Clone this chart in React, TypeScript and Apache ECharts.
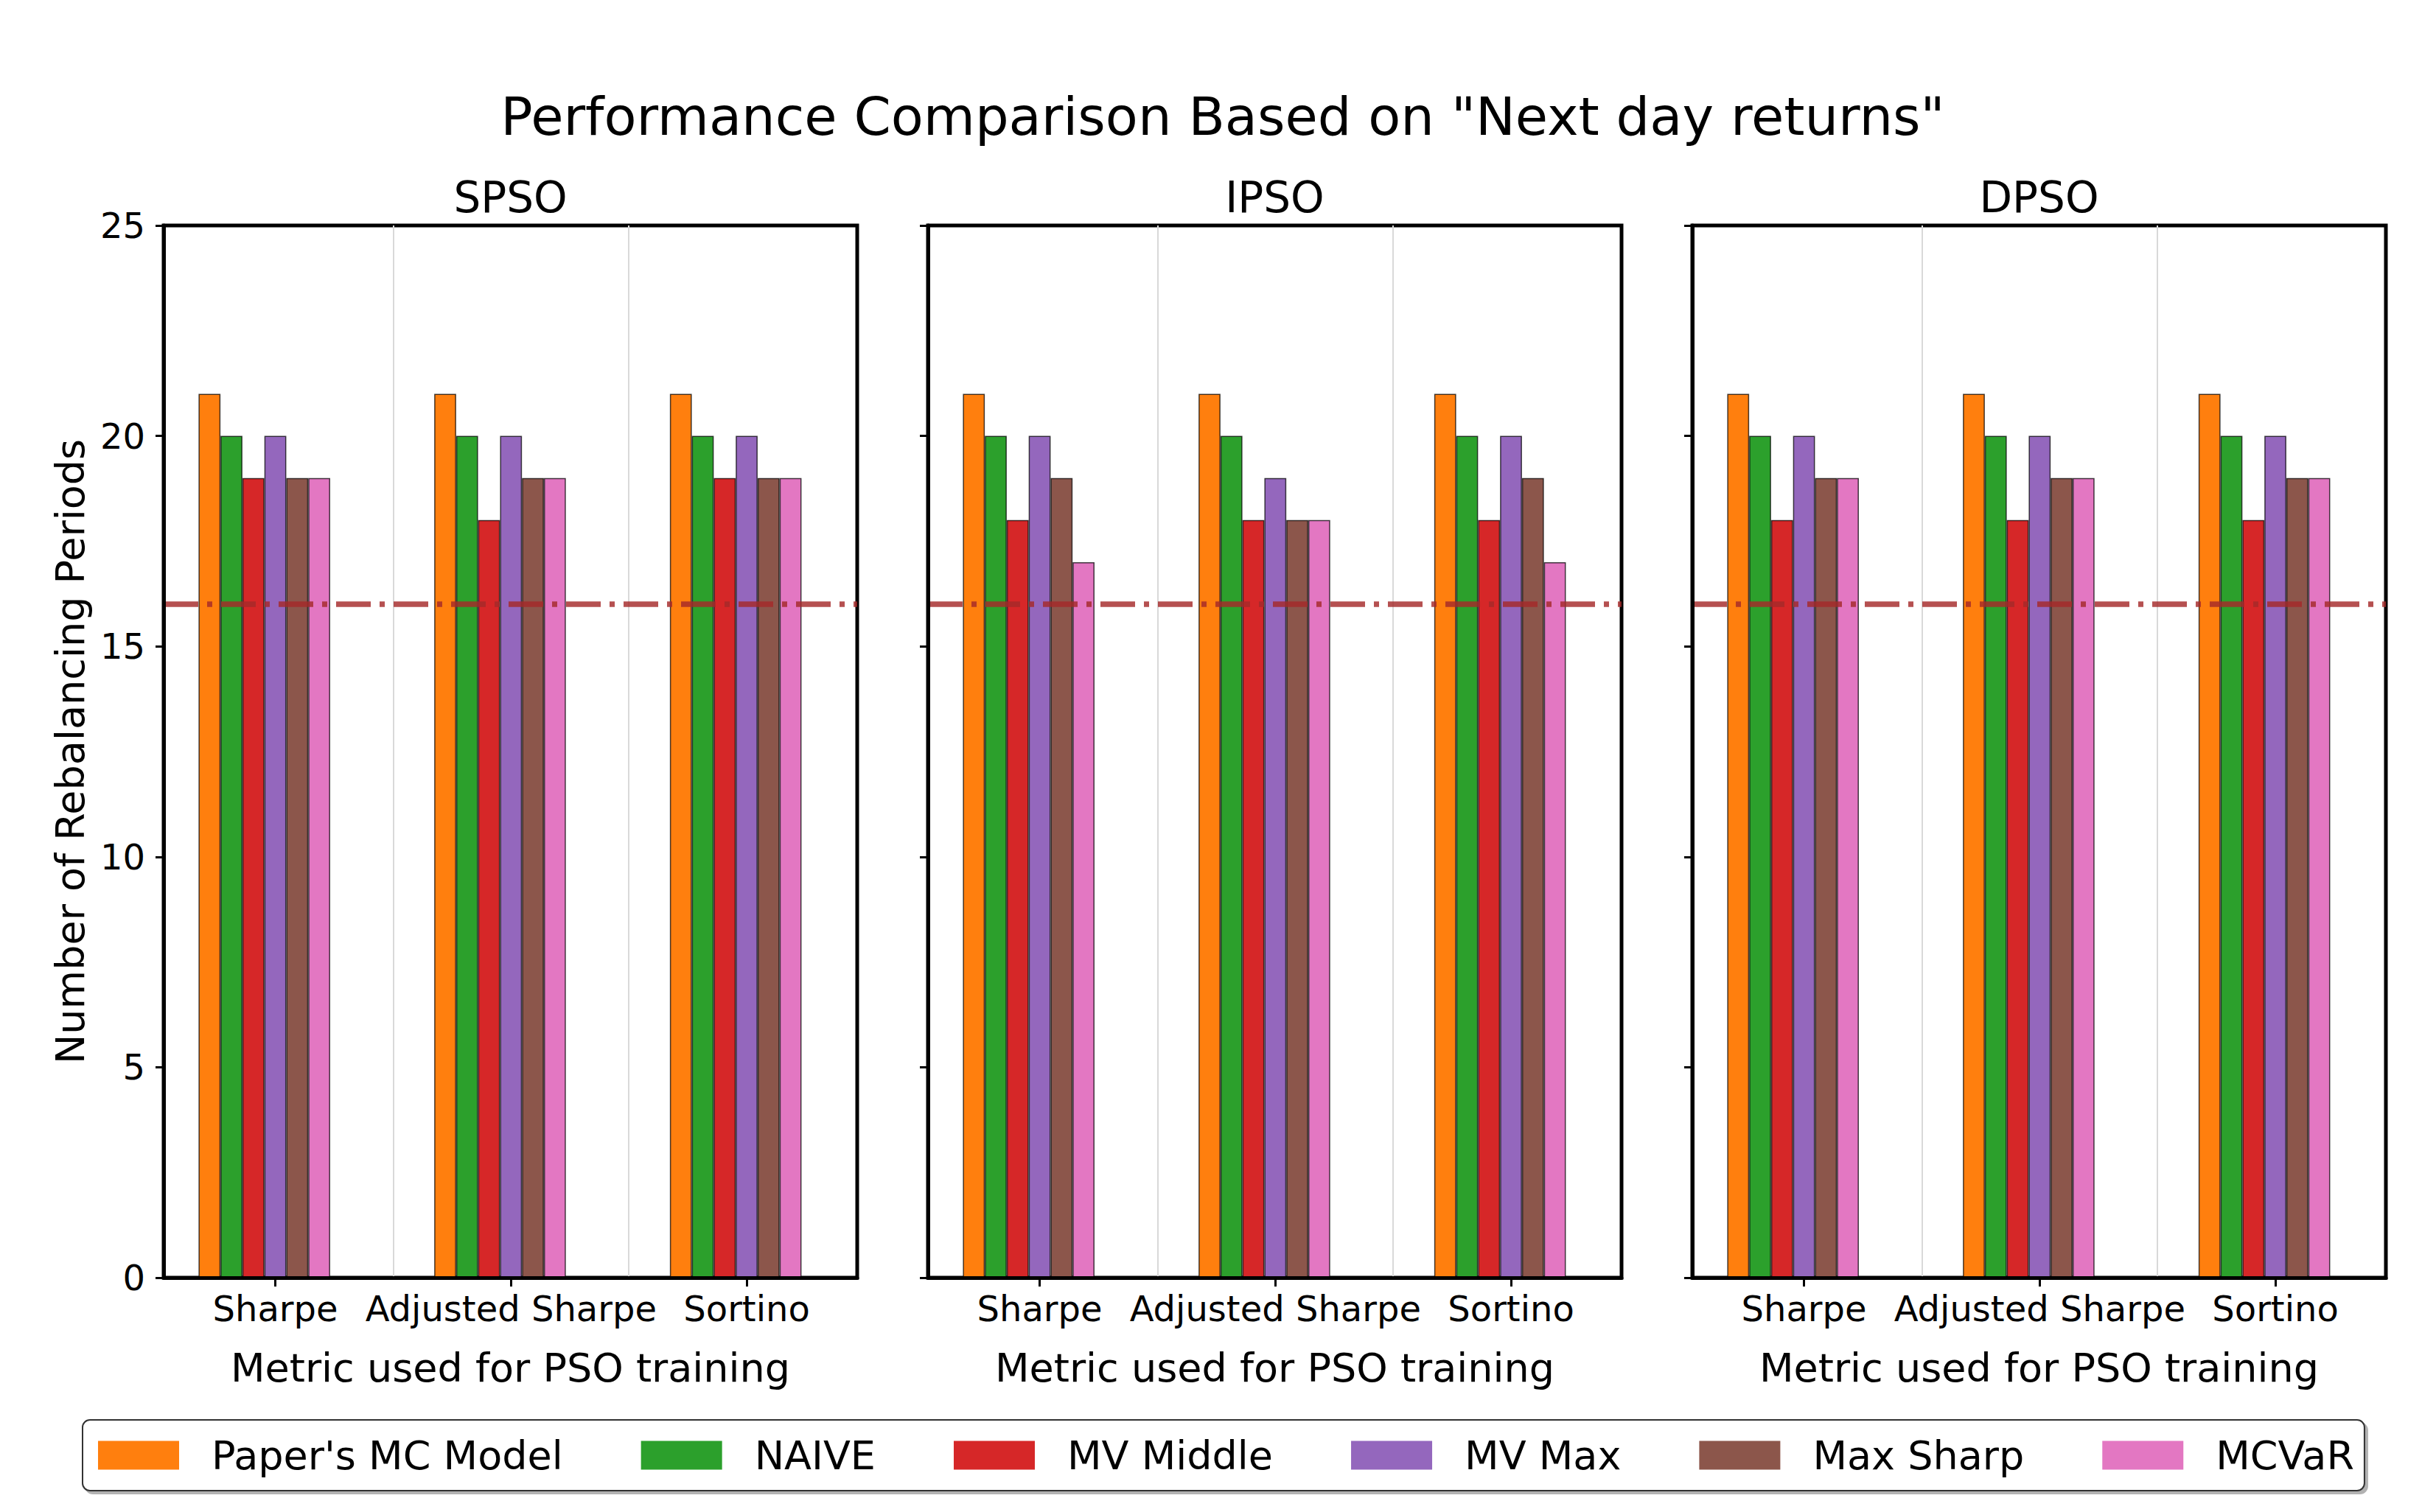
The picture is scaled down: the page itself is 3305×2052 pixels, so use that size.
import React, { useEffect, useRef } from 'react';
import * as echarts from 'echarts';

const METHODS = ["Paper's MC Model", 'NAIVE', 'MV Middle', 'MV Max', 'Max Sharp', 'MCVaR'];
const COLORS = ['#ff7f0e', '#2ca02c', '#d62728', '#9467bd', '#8c564b', '#e377c2'];
const METRICS = ['Sharpe', 'Adjusted Sharpe', 'Sortino'];
const PANELS = ['SPSO', 'IPSO', 'DPSO'];
// rows: methods, columns: metrics (Sharpe, Adjusted Sharpe, Sortino)
const SPSO_VALUES = [
  [21, 21, 21],
  [20, 20, 20],
  [19, 18, 19],
  [20, 20, 20],
  [19, 19, 19],
  [19, 19, 19],
];
const IPSO_VALUES = [
  [21, 21, 21],
  [20, 20, 20],
  [18, 18, 18],
  [20, 19, 20],
  [19, 18, 19],
  [17, 18, 17],
];
const DPSO_VALUES = [
  [21, 21, 21],
  [20, 20, 20],
  [18, 18, 18],
  [20, 20, 20],
  [19, 19, 19],
  [19, 19, 19],
];
const PANEL_VALUES = [SPSO_VALUES, IPSO_VALUES, DPSO_VALUES];
const THRESHOLD = 16;
const Y_MIN = 0;
const Y_MAX = 25;
const Y_STEP = 5;
const GRID_LINES = [0.5, 1.5];

const FONT = 'DejaVu Sans';
const W = 3305;
const H = 2052;
const GRID_LEFTS = [222, 1259, 2296];
const GRID_W = 941;
const GRID_TOP = 306;
const GRID_H = 1428;
const X_MIN = -0.474;
const X_MAX = 2.469;
const BAR_STEP = 0.0931;
const BAR_PX = (GRID_W / (X_MAX - X_MIN)) * BAR_STEP;

function buildOption() {
  const grids: any[] = [];
  const xAxes: any[] = [];
  const yAxes: any[] = [];
  const series: any[] = [];
  const graphics: any[] = [];

  graphics.push({
    type: 'text',
    x: 1659,
    y: 158,
    style: {
      text: 'Performance Comparison Based on "Next day returns"',
      fontSize: 72,
      fontFamily: FONT,
      fill: '#000',
      align: 'center',
      verticalAlign: 'middle',
    },
  });

  PANELS.forEach((panel, g) => {
    grids.push({
      left: GRID_LEFTS[g],
      top: GRID_TOP,
      width: GRID_W,
      height: GRID_H,
      show: true,
      borderColor: '#000',
      borderWidth: 5,
      backgroundColor: 'transparent',
    });
    graphics.push({
      type: 'text',
      x: GRID_LEFTS[g] + GRID_W / 2,
      y: 268,
      style: {
        text: panel,
        fontSize: 58,
        fontFamily: FONT,
        fill: '#000',
        align: 'center',
        verticalAlign: 'middle',
      },
    });
    xAxes.push({
      type: 'value',
      gridIndex: g,
      min: X_MIN,
      max: X_MAX,
      z: 10,
      name: 'Metric used for PSO training',
      nameLocation: 'middle',
      nameGap: 95,
      nameTextStyle: { fontSize: 54, fontFamily: FONT, color: '#000' },
      axisLine: { show: true, onZero: false, lineStyle: { color: '#000', width: 5 } },
      axisTick: {
        show: true,
        customValues: [0, 1, 2],
        length: 12,
        lineStyle: { color: '#000', width: 3 },
      },
      axisLabel: {
        show: true,
        customValues: [0, 1, 2],
        margin: 18,
        fontSize: 48,
        fontFamily: FONT,
        color: '#000',
        formatter: (v: number) => METRICS[Math.round(v)] ?? '',
      },
      splitLine: { show: false },
    });
    yAxes.push({
      type: 'value',
      gridIndex: g,
      min: Y_MIN,
      max: Y_MAX,
      interval: Y_STEP,
      z: 10,
      name: g === 0 ? 'Number of Rebalancing Periods' : '',
      nameLocation: 'middle',
      nameGap: 100,
      nameTextStyle: { fontSize: 54, fontFamily: FONT, color: '#000' },
      axisLine: { show: true, onZero: false, lineStyle: { color: '#000', width: 5 } },
      axisTick: { show: true, length: 11, lineStyle: { color: '#000', width: 3 } },
      axisLabel: {
        show: g === 0,
        margin: 25,
        fontSize: 48,
        fontFamily: FONT,
        color: '#000',
      },
      splitLine: { show: false },
    });

    const values = PANEL_VALUES[g];
    METHODS.forEach((m, i) => {
      const s: any = {
        type: 'bar',
        name: m,
        xAxisIndex: g,
        yAxisIndex: g,
        barWidth: BAR_PX,
        barGap: '-100%',
        itemStyle: {
          color: COLORS[i],
          borderColor: 'rgba(0,0,0,0.72)',
          borderWidth: 1.5,
        },
        data: METRICS.map((_, c) => [c + (i - 3) * BAR_STEP, values[i][c]]),
      };
      if (i === METHODS.length - 1) {
        s.markLine = {
          silent: true,
          symbol: 'none',
          label: { show: false },
          data: [
            ...GRID_LINES.map((x) => ({
              xAxis: x,
              lineStyle: { color: '#d9d9d9', width: 2, type: 'solid' },
            })),
            {
              yAxis: THRESHOLD,
              lineStyle: { color: 'rgba(165,42,42,0.82)', width: 7.5, type: [47, 12, 7, 12] },
            },
          ],
        };
      }
      series.push(s);
    });
  });

  return {
    animation: false,
    backgroundColor: '#fff',
    textStyle: { fontFamily: FONT },
    grid: grids,
    xAxis: xAxes,
    yAxis: yAxes,
    series,
    graphic: graphics,
    legend: {
      data: METHODS,
      left: 112,
      top: 1927,
      orient: 'horizontal',
      icon: 'rect',
      itemWidth: 110,
      itemHeight: 39,
      itemGap: 106,
      selectedMode: false,
      itemStyle: { borderWidth: 0 },
      textStyle: { fontSize: 54, fontFamily: FONT, color: '#000', padding: [0, 0, 0, 39] },
      padding: [21, 14, 21, 21],
      backgroundColor: '#fff',
      borderColor: '#333',
      borderWidth: 2,
      borderRadius: 10,
      shadowColor: 'rgba(0,0,0,0.3)',
      shadowOffsetX: 4,
      shadowOffsetY: 4,
      shadowBlur: 0,
    },
  };
}

export default function App() {
  const ref = useRef<HTMLDivElement>(null);
  useEffect(() => {
    document.body.style.margin = '0';
    if (!ref.current) return;
    const chart = echarts.init(ref.current, undefined, { renderer: 'svg' });
    chart.setOption(buildOption() as any);
    return () => chart.dispose();
  }, []);
  return <div ref={ref} style={{ width: W, height: H }} />;
}
